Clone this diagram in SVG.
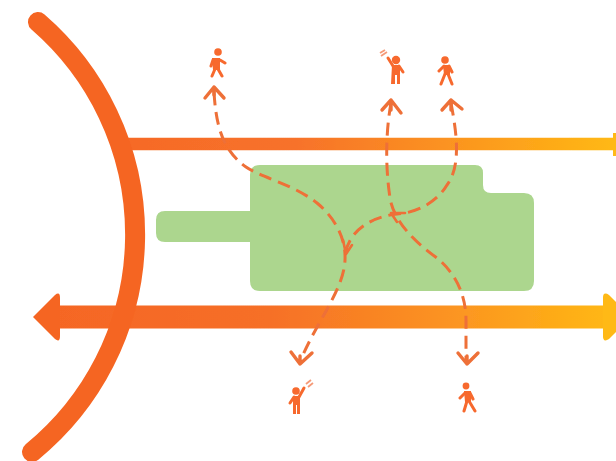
<svg xmlns="http://www.w3.org/2000/svg" width="616" height="461" viewBox="0 0 616 461">
<style>
.dash{fill:none;stroke:#ee6f37;stroke-width:3;stroke-dasharray:13 7}
.head{fill:none;stroke:#ee6f37;stroke-width:3.400;stroke-linecap:round;stroke-linejoin:round}
.thin{fill:none;stroke:#ee6f37;stroke-width:2.600;stroke-linecap:round;stroke-linejoin:round}
.p{fill:#f7692d}
.pl{fill:none;stroke:#f7692d;stroke-width:3;stroke-linecap:round;stroke-linejoin:round}
.sig{fill:none;stroke:#f59a78;stroke-width:1.800}
.soft{filter:url(#b)}
</style>
<defs>
<filter id="b" x="-10%" y="-10%" width="120%" height="120%" filterUnits="objectBoundingBox"><feGaussianBlur stdDeviation="0.6"/></filter>
<linearGradient id="g" gradientUnits="userSpaceOnUse" x1="125" y1="0" x2="616" y2="0">
<stop offset="0" stop-color="#f66a27"/><stop offset=".35" stop-color="#f7722a"/><stop offset=".72" stop-color="#fc9a1e"/><stop offset="1" stop-color="#ffb912"/>
</linearGradient>
<linearGradient id="g2" gradientUnits="userSpaceOnUse" x1="33" y1="0" x2="616" y2="0">
<stop offset="0" stop-color="#f56524"/><stop offset=".4" stop-color="#f66f27"/><stop offset=".75" stop-color="#fc9820"/><stop offset="1" stop-color="#ffb912"/>
</linearGradient>
</defs>
<g id="green-zone"><path class="soft" d="M165 211H250V175Q250 165 260 165H475Q483 165 483 173V185Q483 193 491 193H524Q534 193 534 203V281Q534 291 524 291H260Q250 291 250 281V242H165Q156 242 156 233V220Q156 211 165 211Z" fill="#acd68e"/></g>
<g id="barrier" class="soft">
<path d="M125 144H616" stroke="url(#g)" stroke-width="12.500" fill="none"/>
<path d="M613 133L616 133V156L613 156Z" fill="#ffb912"/>
<path d="M60 317H604" stroke="url(#g2)" stroke-width="23" fill="none"/>
<path d="M33 317L55 295Q60 291 60 298V336Q60 343 55 339Z" fill="#f56524"/>
<path d="M603 298Q603 291 609 295L616 302V332L609 339Q603 343 603 336Z" fill="#ffb912"/>
<path d="M38 22A281 281 0 0 1 32 452" fill="none" stroke="#f56524" stroke-width="20" stroke-linecap="round"/>
</g>
<g id="connectors" class="soft">
<path class="dash" d="M214 92C216 125 222 150 246 167C262 178 293 184 317 203C335 218 346 238 345 260C344 290 316 322 300 362"/>
<path class="dash" d="M391 103C386 130 385 165 390 198C394 222 415 242 437 258C453 271 466 292 466 320V362"/>
<path class="dash" d="M451 103C456 130 462 165 447 185C435 205 413 213 397 214C378 216 349 226 345 256"/>
<path class="head" d="M205 98L214 87L224 98M214 87V95"/>
<path class="head" d="M382 110L391 100L401 113M391 100V110"/>
<path class="head" d="M442 110L451 100L462 109M451 100V110"/>
<path class="head" d="M291 352L300 364L312 353M300 364V356"/>
<path class="head" d="M458 353L467 364L478 353M467 364V356"/>
<path class="thin" d="M343 240L346 254L352 245"/>
<path class="thin" d="M405 213L391 213L397 222"/>
</g>
<g id="person-1" class="soft">
<circle class="p" cx="218" cy="52" r="3.800"/>
<path class="p" d="M212 58H220V70H213Z"/>
<path class="pl" d="M220 60L225 63M213 60L211 66M215 69L212 76M218 69L222 76"/>
</g>
<g id="person-2" class="soft">
<circle class="p" cx="396" cy="60" r="4.200"/>
<path class="p" d="M392 65H400V84H397V75H395V84H391Z"/>
<path class="pl" d="M393 66L388 58M399 66L403 72"/>
<path class="sig" d="M380 53L385 50M381 56L387 52"/>
</g>
<g id="person-3" class="soft">
<circle class="p" cx="445" cy="60" r="3.800"/>
<path class="p" d="M443 65H450V75H444Z"/>
<path class="pl" d="M444 66L439 71M449 66L452 72M445 74L441 84M448 74L452 84"/>
</g>
<g id="person-4" class="soft">
<circle class="p" cx="296" cy="391" r="3.800"/>
<path class="p" d="M293 396H300V414H297V405H296V414H293Z"/>
<path class="pl" d="M299 397L304 388M294 397L290 403"/>
<path class="sig" d="M306 384L311 380M308 387L313 383"/>
</g>
<g id="person-5" class="soft">
<circle class="p" cx="466" cy="386" r="3.400"/>
<path class="p" d="M464 391H471V402H465Z"/>
<path class="pl" d="M465 393L460 398M470 393L473 399M467 401L464 411M469 401L475 411"/>
</g>
</svg>
